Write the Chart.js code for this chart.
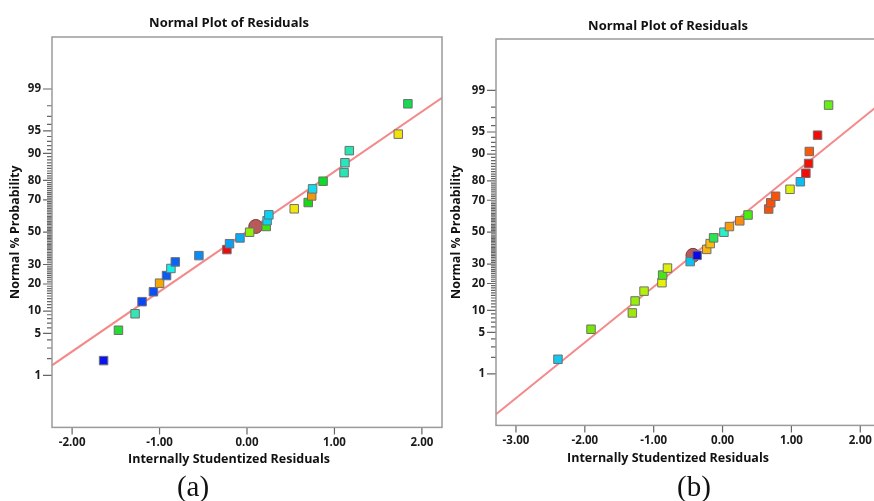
<!DOCTYPE html>
<html>
<head>
<meta charset="utf-8">
<script src="https://cdn.jsdelivr.net/npm/chart.js@4.4.1/dist/chart.umd.min.js"></script>
<style>
  body { margin: 0; width: 874px; height: 501px; overflow: hidden; position: relative; background: #fff; }
  .panel { position: absolute; top: 0; height: 501px; }
  .cap { position: absolute; top: 471px; width: 100px; text-align: center; font: 29px "Liberation Serif", serif; line-height: 30px; color: #111; }
</style>
</head>
<body>
<div class="panel" style="left:0;width:458px"><canvas id="plot-a"></canvas></div>
<div class="panel" style="left:445px;width:446px"><canvas id="plot-b"></canvas></div>
<div class="cap" style="left:143px">(a)</div>
<div class="cap" style="left:644px">(b)</div>
<script>
// Panel (a) residuals (x) and normal % probability (y)
const residA = [-1.64, -1.47, -1.28, -1.20, -1.07, -1.00, -0.92, -0.87, -0.82, -0.55, -0.23, -0.20, -0.08, 0.03,
  0.22, 0.23, 0.25, 0.54, 0.70, 0.74, 0.75, 0.87, 1.11, 1.12, 1.17, 1.73, 1.84];
const probA = [1.85, 5.56, 9.26, 12.96, 16.67, 20.37, 24.07, 27.78, 31.48, 35.19, 38.89, 42.59, 46.30, 50.00,
  53.70, 57.41, 61.11, 64.81, 68.52, 72.22, 75.93, 79.63, 83.33, 87.04, 90.74, 94.44, 98.15];
const colorA = ['#0a14f0', '#22dd33', '#33e6b4', '#0a46f5', '#0a50f5', '#f5a800', '#0a5af5', '#14f0e6', '#0a64f5',
  '#0a8cf5', '#f00a0a', '#0aa0f5', '#0aaaf5', '#8cf00a', '#3ce60a', '#0ad2f5', '#0ad2f5', '#f5e60a', '#14dc14',
  '#f5960a', '#14dcf0', '#0adc28', '#28e6b4', '#28e6be', '#28e6b4', '#f5e10a', '#14dc50'];
const markResidA = [0.10];
const markProbA = [53.70];
const lineResidA = [-2.23, 2.23];
const lineProbA = [1.53, 98.55];

// Panel (b)
const residB = [-2.39, -1.91, -1.31, -1.27, -1.14, -0.88, -0.87, -0.80, -0.47, -0.37, -0.23, -0.18, -0.13, 0.02,
  0.10, 0.25, 0.37, 0.67, 0.70, 0.77, 0.98, 1.13, 1.21, 1.25, 1.26, 1.38, 1.54];
const probB = [1.85, 5.56, 9.26, 12.96, 16.67, 20.37, 24.07, 27.78, 31.48, 35.19, 38.89, 42.59, 46.30, 50.00,
  53.70, 57.41, 61.11, 64.81, 68.52, 72.22, 75.93, 79.63, 83.33, 87.04, 90.74, 94.44, 98.15];
const colorB = ['#14c8f0', '#78e60a', '#a0e60a', '#96ee0a', '#b4f00a', '#e6f00a', '#46e614', '#dcf00a', '#0ac3f0',
  '#0a0ae6', '#fab40a', '#fabe0a', '#28e650', '#28f0c8', '#fa9b0a', '#fa8c0a', '#46f00a', '#fa5008', '#fa5008',
  '#fa5008', '#dcf00a', '#0abef5', '#f50a0a', '#f51005', '#fa5a08', '#f50a0a', '#64f014'];
const markResidB = [-0.43];
const markProbB = [35.19];
const lineResidB = [-3.29, 2.33];
const lineProbB = [0.14, 98.40];

// y axis ticks
const majorTicks = [1, 5, 10, 20, 30, 50, 70, 80, 90, 95, 99];
const probTicks = Array.from({ length: 99 }, (_, i) => i + 1);

// inverse normal cdf (Acklam)
function probit(p) {
  const a = [-39.69683028665376, 220.9460984245205, -275.9285104469687, 138.3577518672690, -30.66479806614716, 2.506628277459239];
  const b = [-54.47609879822406, 161.5858368580409, -155.6989798598866, 66.80131188771972, -13.28068155288572];
  const c = [-0.007784894002430293, -0.3223964580411365, -2.400758277161838, -2.549732539343734, 4.374664141464968, 2.938163982698783];
  const d = [0.007784695709041462, 0.3224671290700398, 2.445134137142996, 3.754408661907416];
  let q, r;
  if (p < 0.02425) {
    q = Math.sqrt(-2 * Math.log(p));
    return (((((c[0]*q+c[1])*q+c[2])*q+c[3])*q+c[4])*q+c[5]) / ((((d[0]*q+d[1])*q+d[2])*q+d[3])*q+1);
  }
  if (p > 1 - 0.02425) {
    q = Math.sqrt(-2 * Math.log(1 - p));
    return -(((((c[0]*q+c[1])*q+c[2])*q+c[3])*q+c[4])*q+c[5]) / ((((d[0]*q+d[1])*q+d[2])*q+d[3])*q+1);
  }
  q = p - 0.5; r = q * q;
  return (((((a[0]*r+a[1])*r+a[2])*r+a[3])*r+a[4])*r+a[5])*q / (((((b[0]*r+b[1])*r+b[2])*r+b[3])*r+b[4])*r+1);
}

// normal probability scale, values in percent
class ProbitScale extends Chart.LinearScale {
  determineDataLimits() {
    this.min = probit(this.options.min / 100);
    this.max = probit(this.options.max / 100);
  }
  buildTicks() {
    return probTicks.map(v => ({ value: v }));
  }
  getPixelForValue(value) {
    return this.getPixelForDecimal((probit(value / 100) - this.min) / (this.max - this.min));
  }
}
ProbitScale.id = 'probit';
ProbitScale.defaults = Chart.LinearScale.defaults;
Chart.register(ProbitScale);

// box round the plot area + tick marks on both axes
const frame = {
  id: 'frame',
  afterDraw(chart) {
    const { ctx, chartArea: a, scales } = chart;
    ctx.save();
    ctx.setLineDash([]);
    ctx.globalAlpha = 1;
    ctx.strokeStyle = '#666666';
    ctx.lineWidth = 1.2;
    ctx.beginPath();
    scales.y.ticks.forEach(t => {
      const y = scales.y.getPixelForValue(t.value);
      const len = majorTicks.includes(t.value) ? 9 : 5;
      ctx.moveTo(a.left - len, y);
      ctx.lineTo(a.left, y);
    });
    scales.x.ticks.forEach(t => {
      const x = scales.x.getPixelForValue(t.value);
      ctx.moveTo(x, a.bottom);
      ctx.lineTo(x, a.bottom + 7);
    });
    ctx.stroke();
    ctx.strokeStyle = '#9a9a9a';
    ctx.lineWidth = 1.5;
    ctx.strokeRect(a.left, a.top, a.right - a.left, a.bottom - a.top);
    ctx.restore();
  }
};

const boldFont = size => ({ family: 'Open Sans', size: size, weight: 'bold' });

function makePlot(canvasId, p) {
  return new Chart(document.getElementById(canvasId), {
    type: 'scatter',
    data: {
      datasets: [
        {
          data: p.resid.map((x, i) => ({ x: x, y: p.prob[i] })),
          yAxisID: 'y',
          pointStyle: 'rect',
          pointRadius: 6,
          backgroundColor: p.colors,
          borderColor: '#6f6f6f',
          borderWidth: 1
        },
        {
          data: p.markX.map((x, i) => ({ x: x, y: p.markY[i] })),
          yAxisID: 'y',
          pointStyle: 'circle',
          pointRadius: 7,
          backgroundColor: '#b65a5a',
          borderColor: '#7d3b3b',
          borderWidth: 1
        },
        {
          type: 'line',
          data: p.lineX.map((x, i) => ({ x: x, y: p.lineY[i] })),
          yAxisID: 'y',
          borderColor: '#f4898a',
          borderWidth: 2,
          pointRadius: 0,
          fill: false
        }
      ]
    },
    options: {
      responsive: true,
      maintainAspectRatio: false,
      animation: false,
      events: [],
      layout: { padding: { left: 0, right: 0, top: 0, bottom: p.padBottom } },
      plugins: {
        legend: { display: false },
        tooltip: { enabled: false },
        title: {
          display: true,
          text: 'Normal Plot of Residuals',
          color: '#111',
          font: boldFont(13),
          padding: { top: p.titleTop, bottom: p.titleBottom }
        },
        subtitle: {
          display: true,
          position: 'bottom',
          text: 'Internally Studentized Residuals',
          color: '#111',
          font: boldFont(12.5),
          padding: { top: 4, bottom: 2 }
        }
      },
      scales: {
        x: {
          type: 'linear',
          min: p.xMin,
          max: p.xMax,
          afterFit: s => { s.height = p.xAxisH; },
          border: { display: false },
          grid: { display: false, tickLength: 7 },
          ticks: {
            stepSize: 1,
            includeBounds: false,
            padding: 1,
            color: '#1a1a1a',
            font: boldFont(11.5),
            callback: v => v.toFixed(2)
          }
        },
        y: {
          type: 'probit',
          min: 0.076,
          max: 99.924,
          afterFit: s => { s.width = p.yAxisW; },
          border: { display: false },
          title: {
            display: true,
            text: 'Normal % Probability',
            color: '#111',
            font: boldFont(12.5),
            padding: { top: p.yTitlePad, bottom: 0 }
          },
          grid: { display: false, tickLength: 9 },
          ticks: {
            autoSkip: false,
            padding: 2,
            color: '#1a1a1a',
            font: boldFont(11.5),
            callback: v => majorTicks.includes(v) ? String(v) : ''
          }
        },
        pad: {
          type: 'linear',
          position: 'right',
          grid: { display: false },
          border: { display: false },
          ticks: { display: false },
          afterFit: s => { s.width = p.padRight; }
        }
      }
    },
    plugins: [frame]
  });
}

makePlot('plot-a', {
  resid: residA, prob: probA, colors: colorA,
  markX: markResidA, markY: markProbA, lineX: lineResidA, lineY: lineProbA,
  xMin: -2.23, xMax: 2.23,
  padBottom: 32, titleTop: 15, titleBottom: 6.4, xAxisH: 20.6,
  yAxisW: 52, yTitlePad: 8, padRight: 16
});

makePlot('plot-b', {
  resid: residB, prob: probB, colors: colorB,
  markX: markResidB, markY: markProbB, lineX: lineResidB, lineY: lineProbB,
  xMin: -3.29, xMax: 2.33,
  padBottom: 33.4, titleTop: 18, titleBottom: 5.4, xAxisH: 21.2,
  yAxisW: 51, yTitlePad: 4, padRight: 5
});
</script>
</body>
</html>
